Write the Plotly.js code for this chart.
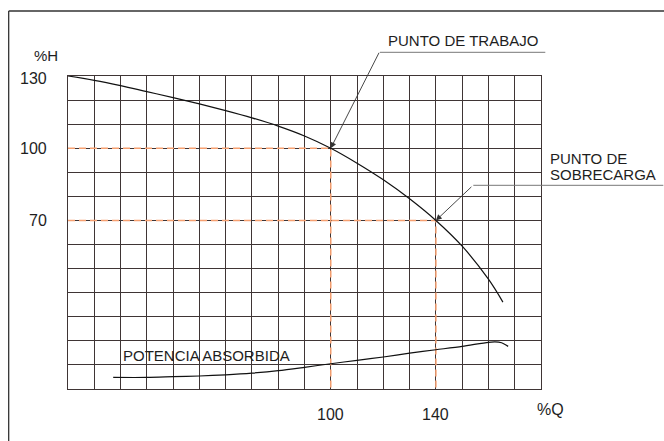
<!DOCTYPE html>
<html>
<head>
<meta charset="utf-8">
<script src="https://cdn.plot.ly/plotly-3.0.1.min.js"></script>
<style>
html,body{margin:0;padding:0;background:#fff;}
#chart{width:664px;height:441px;}
</style>
</head>
<body>
<div id="chart"></div>
<script>
// Head curve (%Q vs %H)
const headQ = [0, 10, 20, 30, 40, 50, 60, 70, 80, 90, 100, 110, 120, 130, 140, 150, 160, 165.5];
const headH = [130, 128.2, 126.0, 123.5, 121.0, 118.4, 115.6, 112.6, 109.2, 105.1, 100, 93.8, 86.9, 79.0, 70, 59.3, 45.6, 36.1];
// Absorbed power curve
const powerQ = [17.2, 30, 40, 50, 60, 70, 80, 90, 100, 110, 120, 130, 140, 150, 160, 162.5, 165, 167.5];
const powerP = [4.8, 4.8, 5.1, 5.4, 5.9, 6.6, 7.6, 9.0, 10.5, 11.9, 13.3, 14.9, 16.3, 17.7, 19.4, 19.6, 19.2, 17.7];
// Working point and overload point
const workPoint = [100, 100];
const overPoint = [140, 70];
// Tick labels
const yTickLabels = [130, 100, 70];
const xTickLabels = [100, 140];
const labels = {
  yTitle: '%H', xTitle: '%Q',
  work: 'PUNTO DE TRABAJO',
  over1: 'PUNTO DE', over2: 'SOBRECARGA',
  power: 'POTENCIA ABSORBIDA'
};

const FONT = 'Liberation Sans, Arial, Helvetica, sans-serif';
const TXT = '#1e1e1e';
const GRID = '#3f3535';
const ORANGE = '#F6A071';

const traces = [
  {x: [0, workPoint[0], workPoint[0]], y: [workPoint[1], workPoint[1], 0], mode: 'lines',
   line: {color: ORANGE, width: 1.5, dash: '7px,4px'}, hoverinfo: 'skip'},
  {x: [0, overPoint[0], overPoint[0]], y: [overPoint[1], overPoint[1], 0], mode: 'lines',
   line: {color: ORANGE, width: 1.5, dash: '7px,4px'}, hoverinfo: 'skip'},
  {x: headQ, y: headH, mode: 'lines', line: {color: '#111', width: 1.2, shape: 'spline', smoothing: 1}},
  {x: powerQ, y: powerP, mode: 'lines', line: {color: '#111', width: 1.2, shape: 'spline', smoothing: 0.8}}
];

const ann = [];
const txt = (text, x, y, xref, yref, xanchor, size, extra) => Object.assign({
  text: text, x: x, y: y, xref: xref, yref: yref, xanchor: xanchor, yanchor: 'middle',
  showarrow: false, font: {family: FONT, size: size, color: TXT}
}, extra || {});

ann.push(txt(labels.yTitle, -0.0455, 1.067, 'paper', 'paper', 'center', 15));
yTickLabels.forEach((v, i) => ann.push(txt(String(v), -0.040, v, 'paper', 'y', 'right', 16, {yshift: i === 0 ? -2 : 0})));
xTickLabels.forEach(v => ann.push(txt(String(v), v, -0.083, 'x', 'paper', 'center', 16)));
ann.push(txt(labels.xTitle, 1.021, -0.067, 'paper', 'paper', 'center', 16));
ann.push(txt(labels.work, 0.672, 1.113, 'paper', 'paper', 'left', 15));
ann.push(txt(labels.over1, 1.015, 0.7364, 'paper', 'paper', 'left', 15));
ann.push(txt(labels.over2, 1.015, 0.6853, 'paper', 'paper', 'left', 15));
ann.push(txt(labels.power, 20.0, 13.9, 'x', 'y', 'left', 15));

// arrows
ann.push({x: workPoint[0], y: workPoint[1], xref: 'x', yref: 'y', text: '', showarrow: true,
  ax: 49, ay: -97, arrowhead: 2, arrowsize: 1.3, arrowwidth: 0.9, arrowcolor: '#333', standoff: 0});
ann.push({x: overPoint[0], y: overPoint[1], xref: 'x', yref: 'y', text: '', showarrow: true,
  ax: 37, ay: -35, arrowhead: 2, arrowsize: 1.3, arrowwidth: 0.9, arrowcolor: '#333', standoff: 0});

const shapes = [
  // leader underlines
  {type: 'line', xref: 'paper', yref: 'paper', x0: 0.6596, x1: 1.0091, y0: 1.0757, y1: 1.0757, line: {color: '#777', width: 1}},
  {type: 'line', xref: 'paper', yref: 'paper', x0: 0.8569, x1: 1.2586, y0: 0.6508, y1: 0.6508, line: {color: '#777', width: 1}},
  // outer frame (top and left)
  {type: 'line', xref: 'paper', yref: 'paper', x0: -0.1254, x1: 1.27, y0: 1.2077, y1: 1.2077, line: {color: '#333', width: 1.3}},
  {type: 'line', xref: 'paper', yref: 'paper', x0: -0.1254, x1: -0.1254, y0: 1.2077, y1: -0.2, line: {color: '#333', width: 1.3}}
];

const layout = {
  width: 664, height: 441,
  margin: {l: 68, r: 123, t: 76, b: 52, pad: 0},
  paper_bgcolor: '#fff', plot_bgcolor: '#fff',
  showlegend: false,
  xaxis: {range: [0, 180], dtick: 10, tick0: 0, showgrid: true, gridcolor: GRID, gridwidth: 1,
          zeroline: false, showline: true, mirror: true, linecolor: GRID, linewidth: 1,
          showticklabels: false, ticks: '', fixedrange: true},
  yaxis: {range: [0, 130], dtick: 10, tick0: 0, showgrid: true, gridcolor: GRID, gridwidth: 1,
          zeroline: false, showline: true, mirror: true, linecolor: GRID, linewidth: 1,
          showticklabels: false, ticks: '', fixedrange: true},
  annotations: ann,
  shapes: shapes,
  font: {family: FONT, color: TXT}
};

Plotly.newPlot('chart', traces, layout, {displayModeBar: false, staticPlot: true});
</script>
</body>
</html>
